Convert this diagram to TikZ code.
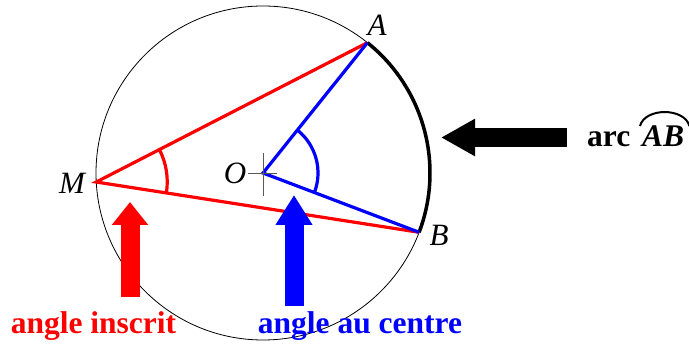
\documentclass[tikz,border=0pt]{standalone}
\usepackage{fontspec}
\setmainfont{Liberation Serif}
\usetikzlibrary{arrows.meta,angles,calc}
\begin{document}
\begin{tikzpicture}[x=1pt, y=1pt,
    every node/.style={inner sep=0pt},
    pt/.style={font=\fontsize{31}{36}\selectfont\itshape},
    lbl/.style={font=\fontsize{31.5}{36}\selectfont\bfseries, anchor=base},
    seg/.style={line width=3.2pt},
    fat/.style={line width=19pt, -{Triangle[length=#1, width=35pt]}}
  ]
  \useasboundingbox (0,0) rectangle (689,345);
  % circle and points
  \coordinate (O) at (263,172);
  \coordinate (A) at ($(O)+(51.3:167)$);
  \coordinate (B) at ($(O)+(-20.8:167)$);
  \coordinate (M) at ($(O)+(183.1:167)$);
  \draw[line width=0.8pt] (O) circle[radius=167];
  \draw[line width=3.5pt] (A) arc[start angle=51.3, end angle=-20.8, radius=167];
  % angles
  \draw[seg, red] (B) -- (M) -- (A);
  \draw[seg, blue] (B) -- (O) -- (A);
  \pic[draw=red, seg, angle radius=71pt] {angle = B--M--A};
  \pic[draw=blue, seg, angle radius=55pt] {angle = B--O--A};
  \draw[gray!70!black, line width=0.8pt] ($(O)+(-15,0)$) -- ($(O)+(14,0)$)
    ($(O)+(0,20)$) -- ($(O)+(0,-23)$);
  \node[pt] (lM) at (72,162) {M};
  \node[pt] (lO) at (235,172) {O};
  \node[pt] (lA) at (377,320) {A};
  \node[pt] (lB) at (439,110) {B};
  % labels
  \node[lbl, red] (inscrit) at (93.5,11) {angle inscrit};
  \node[lbl, blue] (centre) at (360,11) {angle au centre};
  \node[lbl, anchor=base west] (arcw) at (587,198) {arc};
  \node[lbl, anchor=base west, font=\fontsize{31.5}{36}\selectfont\bfseries\itshape] (AB) at (642,198) {AB};
  \draw[line width=2pt] ($(AB.north west)+(-2,0)$) to[bend left=75] ($(AB.north east)+(5,0)$);
  % pointers
  \coordinate (rtail) at (130,48);  \coordinate (rtip) at (130,143);
  \coordinate (btail) at (294,39);  \coordinate (btip) at (294,150);
  \coordinate (ktail) at (567,207.5); \coordinate (ktip) at (441,207.5);
  \draw[fat=23pt, red] (rtail) -- (rtip);
  \draw[fat=30pt, blue] (btail) -- (btip);
  \draw[fat=34pt] (ktail) -- (ktip);
\end{tikzpicture}
\end{document}
